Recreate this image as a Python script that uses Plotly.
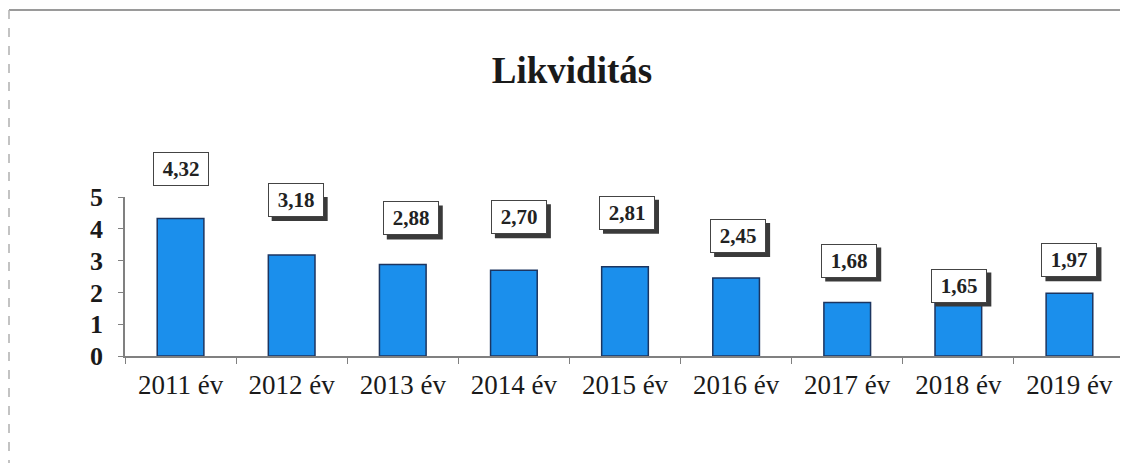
import plotly.graph_objects as go

evek = ["2011 év", "2012 év", "2013 év", "2014 év", "2015 év",
        "2016 év", "2017 év", "2018 év", "2019 év"]
likviditas = [4.32, 3.18, 2.88, 2.70, 2.81, 2.45, 1.68, 1.65, 1.97]
cimkek = ["4,32", "3,18", "2,88", "2,70", "2,81", "2,45", "1,68", "1,65", "1,97"]

# címkék eltolása (px) az oszlop tetejéhez képest
eltolas_y = [50, 55, 46, 53, 54, 42, 42, 18, 33]
eltolas_x = [0, 4, 8, 5, 2, 2, 2, 1, 0]

SERIF = "Liberation Serif, Times New Roman, serif"
KEK = "#1b8fec"
DOBOZ_W, DOBOZ_H = 56, 34  # címkedoboz mérete px-ben

fig = go.Figure(go.Bar(
    x=evek, y=likviditas,
    width=0.42,
    marker=dict(color=KEK, line=dict(color="#1c3560", width=1.5)),
    hoverinfo="skip",
))

for ev, v, c, dy, dx in zip(evek, likviditas, cimkek, eltolas_y, eltolas_x):
    # árnyék a doboz mögött
    fig.add_shape(type="rect", xref="x", yref="y",
                  xsizemode="pixel", ysizemode="pixel",
                  xanchor=ev, yanchor=v,
                  x0=dx - DOBOZ_W / 2 + 4, x1=dx + DOBOZ_W / 2 + 4,
                  y0=dy - DOBOZ_H / 2 - 4, y1=dy + DOBOZ_H / 2 - 4,
                  fillcolor="#3a3a3a", line=dict(width=0), layer="above")
    fig.add_annotation(x=ev, y=v, text="<b>" + c + "</b>", showarrow=False,
                       xshift=dx, yshift=dy, width=DOBOZ_W - 10,
                       height=DOBOZ_H - 10, align="center", valign="middle",
                       font=dict(family=SERIF, size=21, color="#222222"),
                       bgcolor="white", bordercolor="#444444",
                       borderwidth=1, borderpad=4)

# keret
fig.add_shape(type="line", xref="paper", yref="paper",
              x0=-0.116, x1=1.02, y0=2.176, y1=2.176,
              line=dict(color="#9a9a9a", width=2))
fig.add_shape(type="line", xref="paper", yref="paper",
              x0=-0.116, x1=-0.116, y0=2.176, y1=-0.75,
              line=dict(color="#b0b0b0", width=1.5, dash="dash"))

fig.update_layout(
    width=1128, height=463,
    margin=dict(l=117, r=11, t=189, b=115),
    paper_bgcolor="white", plot_bgcolor="white",
    showlegend=False,
    title=dict(text="<b>Likviditás</b>", x=0.5, xanchor="center",
               y=0.866, yanchor="middle",
               font=dict(family=SERIF, size=37, color="#1a1a1a")),
    font=dict(family=SERIF, color="#1a1a1a"),
)
fig.update_xaxes(showline=True, linecolor="#808080", linewidth=1.5,
                 ticks="outside", tickson="boundaries", ticklen=6,
                 tickcolor="#808080", showgrid=False, ticklabelstandoff=4,
                 tickfont=dict(family=SERIF, size=27, color="#1a1a1a"))
fig.update_yaxes(range=[0, 5], dtick=1, showline=True, linecolor="#808080",
                 linewidth=1.5, ticks="outside", ticklen=5,
                 tickcolor="#808080", showgrid=False, zeroline=False,
                 tickprefix="<b>", ticksuffix="</b>", ticklabelstandoff=10,
                 tickfont=dict(family=SERIF, size=26, color="#1a1a1a"))

fig.write_html("out.html")
